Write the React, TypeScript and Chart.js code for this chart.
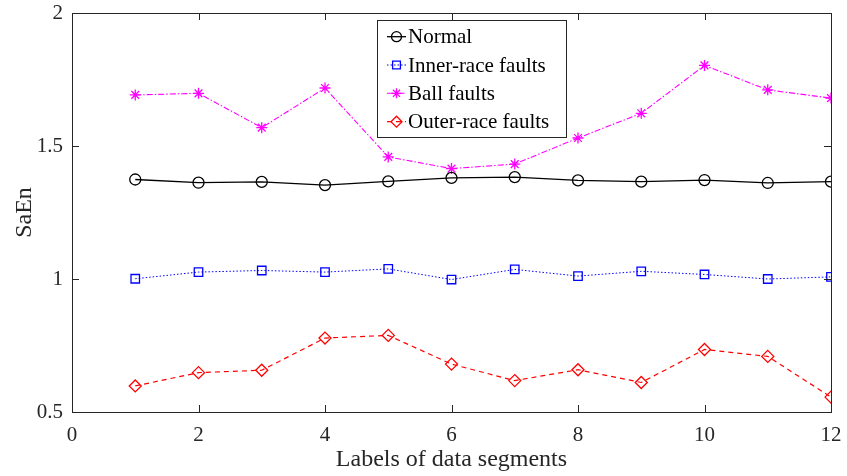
import React, { useEffect, useRef } from "react";
import { Chart, registerables } from "chart.js";
import { drawPoint } from "chart.js/helpers";

Chart.register(...registerables);

const segments = [1, 2, 3, 4, 5, 6, 7, 8, 9, 10, 11, 12];
const normal = [1.374, 1.362, 1.365, 1.353, 1.367, 1.38, 1.383, 1.371, 1.366, 1.372, 1.361, 1.366];
const innerRace = [1.001, 1.026, 1.032, 1.026, 1.038, 0.998, 1.036, 1.011, 1.029, 1.017, 1.0, 1.008];
const ballFaults = [1.692, 1.698, 1.569, 1.718, 1.459, 1.415, 1.432, 1.53, 1.623, 1.803, 1.711, 1.68];
const outerRace = [0.598, 0.648, 0.657, 0.778, 0.788, 0.68, 0.618, 0.659, 0.611, 0.735, 0.709, 0.556];
const seriesNames = ["Normal", "Inner-race faults", "Ball faults", "Outer-race faults"];
const xTicks = [0, 2, 4, 6, 8, 10, 12];
const yTicks = [0.5, 1, 1.5, 2];

const AXIS = "#262626";
const FONT = "'Liberation Serif', 'Times New Roman', serif";

const frame = {
  id: "frame",
  afterDraw(chart: any) {
    const { ctx, chartArea: a, scales } = chart;
    ctx.save();
    ctx.strokeStyle = AXIS;
    ctx.lineWidth = 1;
    ctx.strokeRect(Math.round(a.left) + 0.5, Math.round(a.top) + 0.5, Math.round(a.right - a.left), Math.round(a.bottom - a.top));
    const L = 7;
    ctx.beginPath();
    scales.x.ticks.forEach((t: any) => {
      const px = Math.round(scales.x.getPixelForValue(t.value)) + 0.5;
      ctx.moveTo(px, a.bottom);
      ctx.lineTo(px, a.bottom - L);
      ctx.moveTo(px, a.top);
      ctx.lineTo(px, a.top + L);
    });
    scales.y.ticks.forEach((t: any) => {
      const py = Math.round(scales.y.getPixelForValue(t.value)) + 0.5;
      ctx.moveTo(a.left, py);
      ctx.lineTo(a.left + L, py);
      ctx.moveTo(a.right, py);
      ctx.lineTo(a.right - L, py);
    });
    ctx.stroke();

    // legend
    const bx = 377.5, by = 20.5, bw = 189, bh = 117;
    ctx.fillStyle = "#ffffff";
    ctx.fillRect(bx, by, bw, bh);
    ctx.strokeStyle = AXIS;
    ctx.strokeRect(bx, by, bw, bh);
    const rows = [36.7, 65, 93.3, 121.7];
    chart.data.datasets.forEach((ds: any, i: number) => {
      const y = rows[i];
      ctx.save();
      ctx.strokeStyle = ds.borderColor;
      ctx.lineWidth = ds.borderWidth;
      ctx.setLineDash(ds.borderDash || []);
      ctx.beginPath();
      ctx.moveTo(387, y);
      ctx.lineTo(406, y);
      ctx.stroke();
      ctx.restore();
      ctx.save();
      ctx.strokeStyle = ds.pointBorderColor;
      ctx.fillStyle = "rgba(0,0,0,0)";
      ctx.lineWidth = ds.pointBorderWidth;
      drawPoint(ctx, { pointStyle: ds.pointStyle, radius: ds.pointRadius - 0.5, rotation: 0, borderWidth: ds.pointBorderWidth }, 396.5, y);
      ctx.restore();
      ctx.fillStyle = "#000";
      ctx.font = `21px ${FONT}`;
      ctx.textBaseline = "middle";
      ctx.textAlign = "left";
      ctx.fillText(ds.label, 408, y + 1);
    });
    ctx.restore();
  },
};

const mk = (vals: number[]) => segments.map((s, i) => ({ x: s, y: vals[i] }));

export default function App() {
  const ref = useRef<HTMLCanvasElement>(null);
  useEffect(() => {
    const ds = (label: string, vals: number[], color: string, style: string, dash: number[], r: number, lw: number) => ({
      label,
      data: mk(vals),
      borderColor: color,
      backgroundColor: "rgba(0,0,0,0)",
      pointBorderColor: color,
      pointBackgroundColor: "rgba(0,0,0,0)",
      pointStyle: style,
      pointRadius: r,
      pointBorderWidth: 1.3,
      borderWidth: lw,
      borderDash: dash,
      tension: 0,
    });
    const chart = new Chart(ref.current!, {
      type: "line",
      data: {
        datasets: [
          ds(seriesNames[0], normal, "#000000", "circle", [], 5.5, 1.3),
          ds(seriesNames[1], innerRace, "#0000ff", "rect", [1.5, 2], 6, 1),
          ds(seriesNames[2], ballFaults, "#ff00ff", "star", [6, 2, 1.5, 2], 5.5, 1.1),
          ds(seriesNames[3], outerRace, "#ff0000", "rectRot", [5, 4], 6, 1.2),
        ],
      },
      options: {
        animation: false,
        responsive: false,
        maintainAspectRatio: false,
        layout: { padding: { top: 13, right: 16, left: 0, bottom: 0 } },
        plugins: { legend: { display: false }, tooltip: { enabled: false } },
        scales: {
          x: {
            type: "linear",
            min: 0,
            max: 12,
            afterBuildTicks: (s: any) => {
              s.ticks = xTicks.map((v) => ({ value: v }));
            },
            afterFit: (s: any) => {
              s.height = 64;
              s.paddingLeft = 0;
              s.paddingRight = 0;
            },
            grid: { display: false, drawTicks: false },
            border: { display: false },
            ticks: { color: AXIS, font: { family: FONT, size: 21 }, padding: 11, maxRotation: 0 },
            title: {
              display: true,
              text: "Labels of data segments",
              color: AXIS,
              font: { family: FONT, size: 24 },
              padding: { top: 0, bottom: 2 },
            },
          },
          y: {
            type: "linear",
            min: 0.5,
            max: 2,
            afterBuildTicks: (s: any) => {
              s.ticks = yTicks.map((v) => ({ value: v }));
            },
            afterFit: (s: any) => {
              s.width = 72;
              s.paddingTop = 0;
              s.paddingBottom = 0;
            },
            grid: { display: false, drawTicks: false },
            border: { display: false },
            ticks: {
              color: AXIS,
              font: { family: FONT, size: 21 },
              padding: 9,
              callback: (v: any) => String(v),
            },
            title: {
              display: true,
              text: "SaEn",
              color: AXIS,
              font: { family: FONT, size: 24 },
              padding: { top: 10, bottom: 0 },
            },
          },
        },
      },
      plugins: [frame],
    } as any);
    return () => chart.destroy();
  }, []);
  return (
    <div style={{ position: "absolute", left: 0, top: 0, width: 847, height: 476, background: "#fff" }}>
      <canvas ref={ref} width={847} height={476} style={{ width: 847, height: 476 }} />
    </div>
  );
}
